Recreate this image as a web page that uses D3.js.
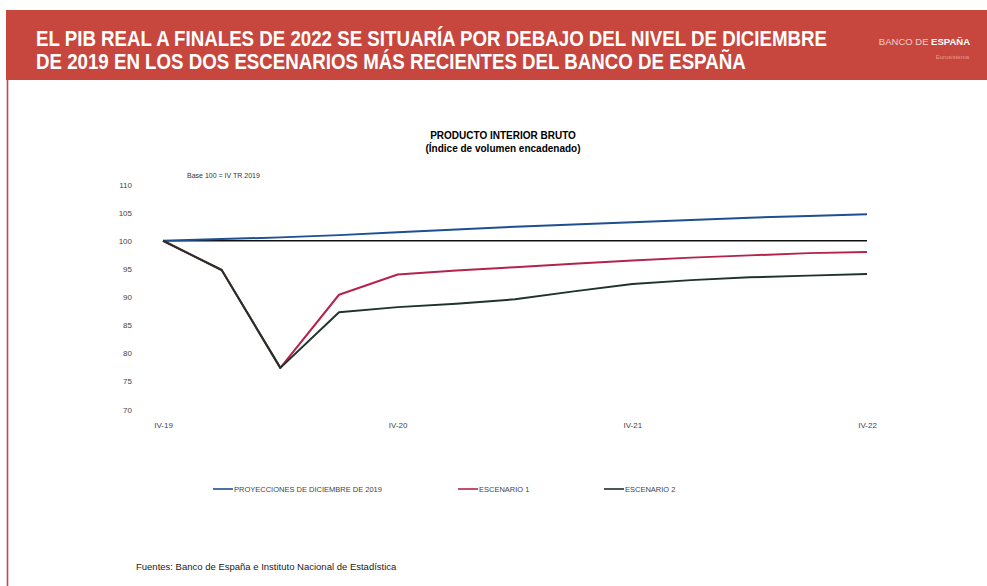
<!DOCTYPE html>
<html>
<head>
<meta charset="utf-8">
<script src="https://cdn.jsdelivr.net/npm/d3@7"></script>
<style>
  body { margin: 0; background: #fff; }
  svg { display: block; font-family: "Liberation Sans", Arial, sans-serif; }
</style>
</head>
<body>
<div id="chart"></div>
<script>
var width = 987, height = 586;

// data
var quarters = ['IV-19','I-20','II-20','III-20','IV-20','I-21','II-21','III-21','IV-21','I-22','II-22','III-22','IV-22'];
var tickQuarters = ['IV-19','IV-20','IV-21','IV-22'];
var yTicks = [70, 75, 80, 85, 90, 95, 100, 105, 110];
var proyDic19 = [100, 100.3, 100.6, 101.0, 101.5, 102.0, 102.5, 102.9, 103.3, 103.7, 104.1, 104.4, 104.7];
var escenario1 = [100, 94.8, 77.4, 90.4, 94.0, 94.7, 95.3, 95.9, 96.5, 97.0, 97.4, 97.8, 98.0];
var escenario2 = [100, 94.8, 77.4, 87.3, 88.2, 88.8, 89.6, 91.0, 92.3, 93.0, 93.5, 93.8, 94.1];
var base = 100;
var seriesNames = ['PROYECCIONES DE DICIEMBRE DE 2019', 'ESCENARIO 1', 'ESCENARIO 2'];
var seriesColors = ['#1d4f93', '#b3234c', '#1f3329'];

var svg = d3.select('#chart').append('svg')
  .attr('width', width)
  .attr('height', height);

// header band
svg.append('rect')
  .attr('x', 6).attr('y', 10)
  .attr('width', width - 6).attr('height', 70)
  .attr('fill', '#c7473f');
svg.append('line')
  .attr('x1', 7.5).attr('x2', 7.5).attr('y1', 80).attr('y2', height)
  .attr('stroke', '#c8405a').attr('stroke-width', 1.6);

// condensed title: no narrow font installed, so squeeze horizontally
var titleLines = ['EL PIB REAL A FINALES DE 2022 SE SITUARÍA POR DEBAJO DEL NIVEL DE DICIEMBRE',
                  'DE 2019 EN LOS DOS ESCENARIOS MÁS RECIENTES DEL BANCO DE ESPAÑA'];
svg.append('g')
  .attr('transform', 'translate(36,0) scale(0.85,1)')
  .selectAll('.title').data(titleLines).enter().append('text')
  .attr('x', 0)
  .attr('y', function(d, i) { return 46 + i * 23; })
  .style('font-weight', 'bold')
  .style('font-size', '22px')
  .attr('fill', '#fff')
  .text(function(d) { return d; });

var logo = svg.append('text').attr('x', 970).attr('y', 45)
  .attr('text-anchor', 'end')
  .style('font-size', '9.5px').attr('fill', '#f1d0c8');
logo.append('tspan').text('BANCO DE ');
logo.append('tspan').style('font-weight', 'bold').attr('fill', '#fff').text('ESPAÑA');
svg.append('text').attr('x', 969).attr('y', 59)
  .attr('text-anchor', 'end')
  .style('font-size', '6px').attr('fill', '#e89a8c')
  .text('Eurosistema');

// chart titles
svg.append('text').attr('x', 503).attr('y', 139)
  .attr('text-anchor', 'middle')
  .style('font-size', '10px').style('font-weight', 'bold')
  .text('PRODUCTO INTERIOR BRUTO');
svg.append('text').attr('x', 503).attr('y', 152)
  .attr('text-anchor', 'middle')
  .style('font-size', '10px').style('font-weight', 'bold')
  .text('(Índice de volumen encadenado)');
svg.append('text').attr('x', 187).attr('y', 178)
  .style('font-size', '7px').attr('fill', '#333')
  .text('Base 100 = IV TR 2019');

var x = d3.scalePoint().domain(quarters).range([163, 867]);
var y = d3.scaleLinear().domain([70, 110]).range([409.5, 184.5]);

// y axis labels only
var yAxis = svg.append('g')
  .attr('transform', 'translate(132,0)')
  .call(d3.axisLeft(y).tickValues(yTicks).tickSize(0).tickPadding(0));
yAxis.select('.domain').remove();
yAxis.selectAll('text')
  .style('font-family', '"Liberation Sans", Arial, sans-serif')
  .style('font-size', '8px').attr('fill', '#444');

var xAxis = svg.append('g')
  .attr('transform', 'translate(0,422)')
  .call(d3.axisBottom(x).tickValues(tickQuarters).tickSize(0).tickPadding(0));
xAxis.select('.domain').remove();
xAxis.selectAll('text')
  .style('font-family', '"Liberation Sans", Arial, sans-serif')
  .style('font-size', '8px').attr('fill', '#444');

// reference line at base 100
svg.append('line')
  .attr('x1', x(quarters[0])).attr('x2', x(quarters[quarters.length - 1]))
  .attr('y1', y(base)).attr('y2', y(base))
  .attr('stroke', '#111').attr('stroke-width', 1.6);

var line = d3.line()
  .x(function(d, i) { return x(quarters[i]); })
  .y(function(d) { return y(d); });

// escenario 2 drawn over escenario 1 where they share the first quarters
var allSeries = [proyDic19, escenario1, escenario2];
svg.selectAll('.serie').data(allSeries).enter().append('path')
  .attr('class', 'serie')
  .attr('d', line)
  .attr('fill', 'none')
  .attr('stroke', function(d, i) { return seriesColors[i]; })
  .attr('stroke-width', 2)
  .attr('stroke-linejoin', 'round');

// legend
var legendX = [213, 458, 604];
var legend = svg.selectAll('.legend').data(seriesNames).enter().append('g')
  .attr('transform', function(d, i) { return 'translate(' + legendX[i] + ',489)'; });
legend.append('line')
  .attr('x1', 0).attr('x2', 20).attr('y1', 0).attr('y2', 0)
  .attr('stroke', function(d, i) { return seriesColors[i]; })
  .attr('stroke-width', 1.6);
legend.append('text')
  .attr('x', 21).attr('y', 3)
  .style('font-size', '7.5px').attr('fill', '#444')
  .text(function(d) { return d; });

svg.append('text').attr('x', 136).attr('y', 570)
  .style('font-size', '9.5px').attr('fill', '#222')
  .text('Fuentes: Banco de España e Instituto Nacional de Estadística');
</script>
</body>
</html>
